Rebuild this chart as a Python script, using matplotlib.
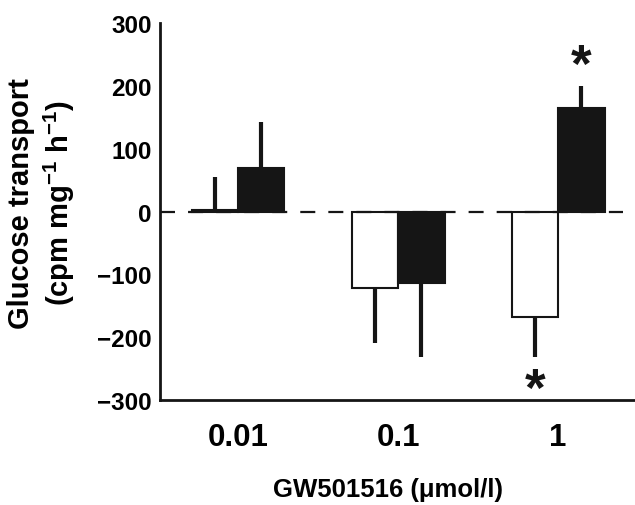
import numpy as np
import matplotlib
matplotlib.use('Agg')
import matplotlib.pyplot as plt

plt.rcParams['font.family'] = ['Liberation Sans', 'DejaVu Sans']
plt.rcParams['font.weight'] = 'bold'
plt.rcParams['mathtext.fontset'] = 'custom'
plt.rcParams['mathtext.rm'] = 'Liberation Sans:bold'
plt.rcParams['mathtext.bf'] = 'Liberation Sans:bold'
plt.rcParams['mathtext.default'] = 'rm'
plt.rcParams['lines.scale_dashes'] = False

# data
doses = ['0.01', '0.1', '1']
white_vals = [2, -122, -168]
white_err = [53, 88, 64]
black_vals = [70, -114, 165]
black_err = [73, 118, 35]
sig_white = [False, False, True]
sig_black = [False, False, True]

x = np.arange(len(doses))
w = 0.29

fig = plt.figure(figsize=(6.35, 5.06), dpi=100)
ax = fig.add_axes([0.252, 0.2075, 0.748, 0.745])

def one_sided(vals, err):
    lo = [e if v < 0 else 0 for v, e in zip(vals, err)]
    hi = [e if v >= 0 else 0 for v, e in zip(vals, err)]
    return [lo, hi]

ax.bar(x - w/2, white_vals, w, color='white', edgecolor='#151515', linewidth=1.5, zorder=3)
ax.bar(x + w/2, black_vals, w, color='#151515', edgecolor='#151515', linewidth=1.5, zorder=3)
ax.errorbar(x - w/2, white_vals, yerr=one_sided(white_vals, white_err), fmt='none',
            ecolor='#151515', elinewidth=3, capsize=0, zorder=2)
ax.errorbar(x + w/2, black_vals, yerr=one_sided(black_vals, black_err), fmt='none',
            ecolor='#151515', elinewidth=3, capsize=0, zorder=2)

ax.axhline(0, xmin=0, xmax=0.975, color='#151515', linewidth=1.6,
           dashes=(10.8, 9.4), zorder=4)

for i in range(len(doses)):
    if sig_white[i]:
        tip = white_vals[i] - white_err[i]
        ax.text(x[i] - w/2, tip - 53, '*', ha='center', va='center', fontsize=38,
                fontweight='bold', color='#151515')
    if sig_black[i]:
        tip = black_vals[i] + black_err[i]
        ax.text(x[i] + w/2, tip + 30, '*', ha='center', va='center', fontsize=38,
                fontweight='bold', color='#151515')

ax.set_xlim(-0.4875, 2.48)
ax.set_ylim(-300, 300)
ax.set_xticks(x)
ax.set_xticklabels(doses, fontsize=22.5, fontweight='bold')
yt = [-300, -200, -100, 0, 100, 200, 300]
ax.set_yticks(yt)
ax.set_yticklabels([str(v).replace('-', '\u2212') for v in yt], fontsize=17.5, fontweight='bold')
ax.tick_params(axis='both', length=0)
ax.tick_params(axis='x', pad=16)
ax.tick_params(axis='y', pad=6)

for s in ['top', 'right']:
    ax.spines[s].set_visible(False)
for s in ['left', 'bottom']:
    ax.spines[s].set_linewidth(2)
    ax.spines[s].set_color('#151515')

fig.text(0.066, 0.598, 'Glucose transport\n(cpm mg$^{\u22121}$ h$^{\u22121}$)', rotation=90,
         ha='center', va='center', multialignment='center', fontsize=21,
         fontweight='bold', linespacing=1.22)
fig.text(0.611, 0.008, 'GW501516 (\u03bcmol/l)', ha='center', va='bottom', fontsize=18.5,
         fontweight='bold')

fig.savefig('out.png', dpi=100)
